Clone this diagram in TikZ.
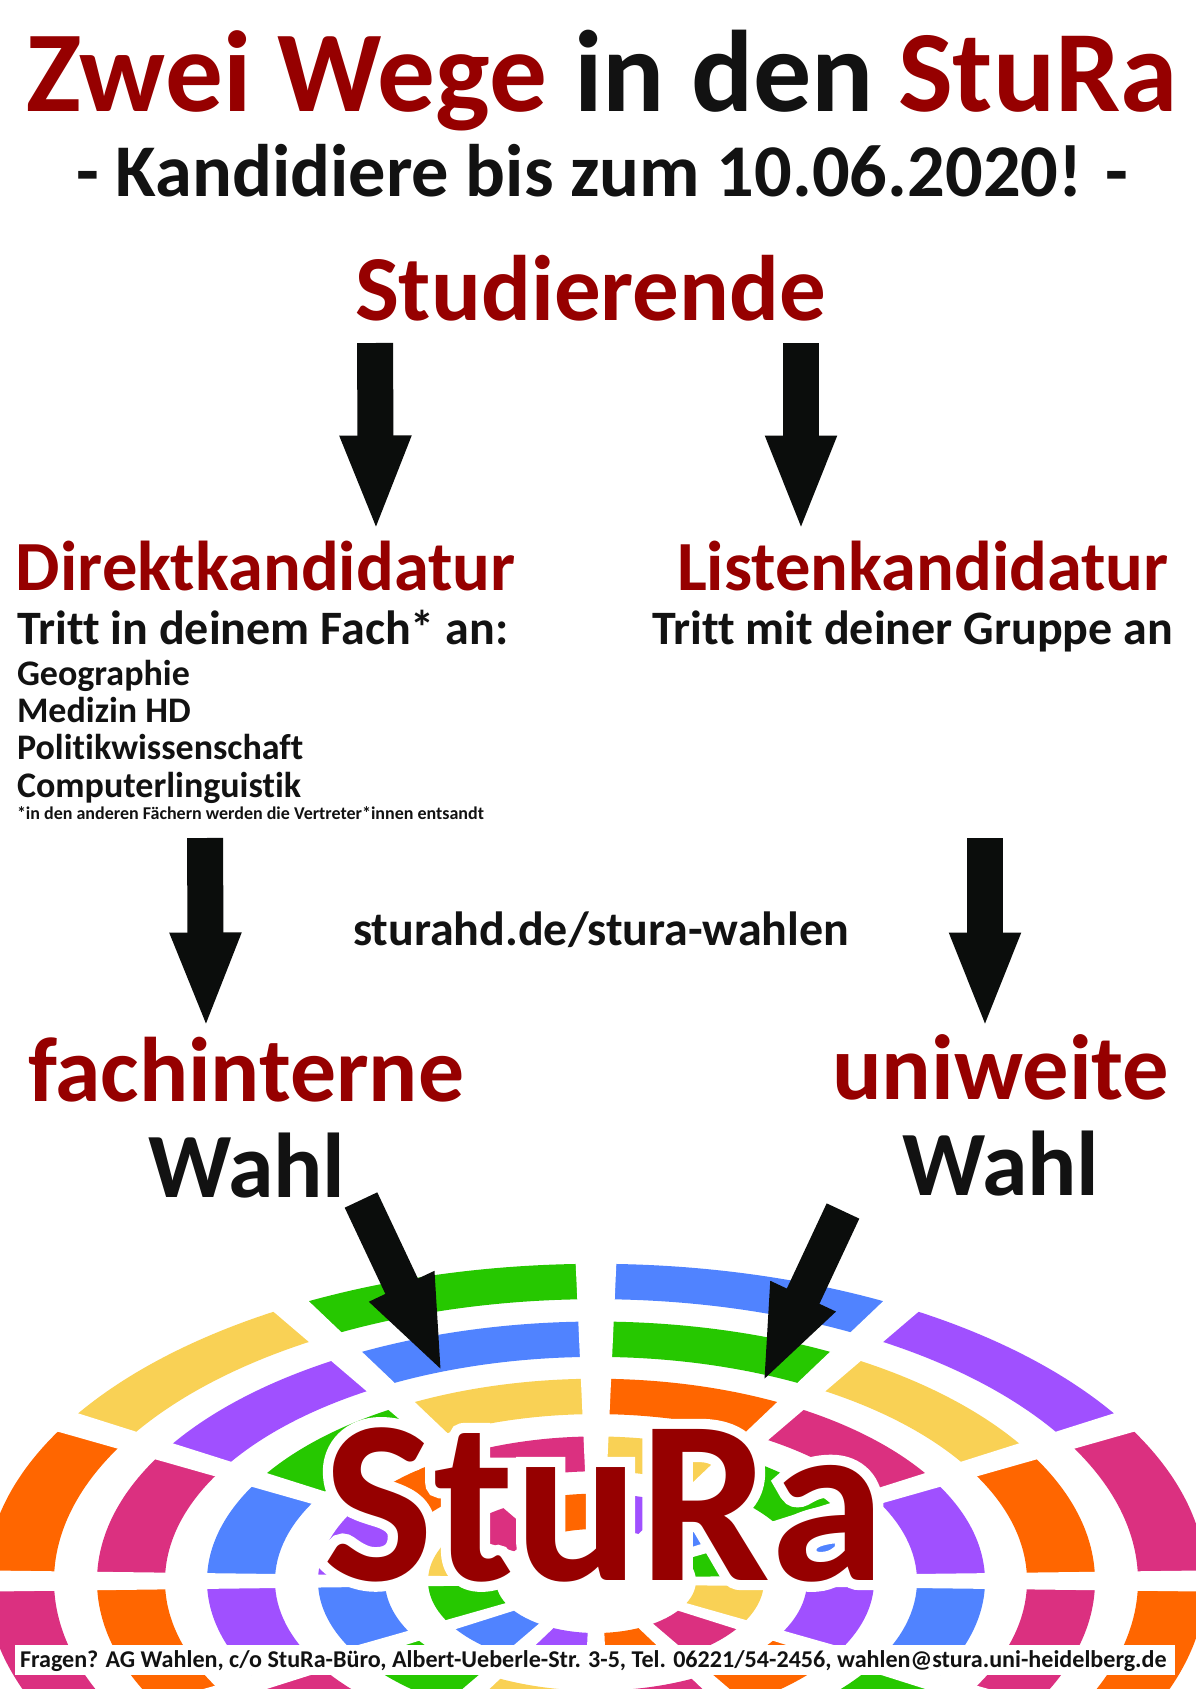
\documentclass[tikz,border=0pt]{standalone}
\usepackage{fontspec}
\usetikzlibrary{arrows.meta}
\defaultfontfeatures{Ligatures=NoCommon}
\setmainfont[BoldFont={Carlito Bold}]{Carlito}
\newfontfamily\halofont[FakeBold=8.7]{Carlito Bold}
\definecolor{dred}{RGB}{150,0,0}
\definecolor{nblack}{RGB}{18,18,18}
\definecolor{arrowblack}{RGB}{11,13,12}
\definecolor{rorange}{RGB}{255,102,0}
\definecolor{ryellow}{RGB}{249,209,85}
\definecolor{rgreen}{RGB}{38,200,0}
\definecolor{rblue}{RGB}{80,131,255}
\definecolor{rpurple}{RGB}{160,80,255}
\definecolor{rpink}{RGB}{219,48,128}
\newcommand\fsz[1]{\fontsize{#1}{#1}\selectfont\bfseries}
\newcommand\seg[4]{\fill[#4] (#3:#1) arc[start angle=#3,end angle=#3+30,radius=#1] -- ({#3+30}:#2) arc[start angle=#3+30,end angle=#3,radius=#2] -- cycle;}
\newcommand\ringset[3]{\foreach \a/\c in {#3}{\seg{#1}{#2}{\a}{\c}}}
\tikzset{
  tx/.style={anchor=base west,inner sep=0pt,outer sep=0pt,text=nblack},
  red/.style={tx,text=dred},
  dark/.style={tx,text=nblack},
  blockarrow/.style={draw=arrowblack,line width=36pt,-{Triangle[length=97pt,width=64pt,fill=arrowblack]}},
}
\begin{document}
\begin{tikzpicture}[x=1pt,y=-1pt]
\useasboundingbox (0,0) rectangle (1196,1689);
\fill[white] (0,0) rectangle (1196,1689);
\clip (0,0) rectangle (1196,1689);
% parliament rings
\begin{scope}[shift={(596,1581)},x=1pt,y=1pt,yscale=.52]
\ringset{610}{542}{0/rpink,30/rpurple,60/rblue,90/rgreen,120/ryellow,150/rorange,180/rpink,330/rorange}
\ringset{499}{431}{0/rorange,30/ryellow,60/rgreen,90/rblue,120/rpurple,150/rpink,180/rorange,330/rpink}
\ringset{389}{321}{0/rpurple,30/rpink,60/rorange,90/ryellow,120/rgreen,150/rblue,180/rpurple,210/rpink,300/rgreen,330/rblue}
\ringset{278}{211}{0/rblue,30/rgreen,60/ryellow,90/rpink,120/rorange,150/rpurple,180/rblue,210/rgreen,240/ryellow,270/rpink,300/rorange,330/rpurple}
\ringset{168}{100}{0/rgreen,30/rblue,60/rpurple,90/rorange,120/rpink,150/ryellow,180/rgreen,210/rblue,240/rpurple,270/rorange,300/rpink,330/ryellow}
\foreach \t in {0,30,...,330}{
  \fill[white,rotate=\t] (0,-6) -- (660,-21.5) -- (660,21.5) -- (0,6) -- cycle;
}
\end{scope}
% texts
\node[red] (t1) at (27,111) {\fsz{115.3}Zwei Wege};
\node[dark] (t2) at (574,111) {\fsz{116}in den};
\node[red] (t3) at (898,111) {\fsz{116}StuRa};
\node[tx] (sub) at (76,196) {\fsz{74.4}- Kandidiere bis zum 10.06.2020! -};
\node[red] (stud) at (355,320) {\fsz{93}Studierende};
\node[red] (direkt) at (16,590) {\fsz{70.5}Direktkandidatur};
\node[red] (liste) at (677,590) {\fsz{70.5}Listenkandidatur};
\node[dark] (dsub) at (17,644) {\fsz{48}Tritt in deinem Fach* an:};
\node[dark] (lsub) at (652,644) {\fsz{48}Tritt mit deiner Gruppe an};
\node[dark] (f1) at (17,685) {\fsz{36}Geographie};
\node[dark] (f2) at (17,722) {\fsz{36}Medizin HD};
\node[dark] (f3) at (17,759) {\fsz{36}Politikwissenschaft};
\node[dark] (f4) at (17,797) {\fsz{36}Computerlinguistik};
\node[dark] (note) at (17,819) {\fsz{18}*in den anderen Fächern werden die Vertreter*innen entsandt};
\node[tx] (url) at (353,945) {\fsz{48}sturahd.de/stura-wahlen};
\node[red] (fach) at (28,1101) {\fsz{91.7}fachinterne};
\node[dark] (wl) at (148,1197) {\fsz{92}Wahl};
\node[red] (uni) at (832,1099) {\fsz{92.6}uniweite};
\node[dark] (wr) at (902,1195) {\fsz{92}Wahl};
% block arrows
\coordinate (a1s) at (375,343); \coordinate (a1e) at (376,532.5);
\coordinate (a2s) at (801,343); \coordinate (a2e) at (801,532.5);
\coordinate (a3s) at (205,838); \coordinate (a3e) at (206,1029.5);
\coordinate (a4s) at (985,838); \coordinate (a4e) at (985,1029.5);
\coordinate (a5s) at (361,1200); \coordinate (a5e) at (443,1374);
\coordinate (a6s) at (843,1211); \coordinate (a6e) at (762,1384);
\foreach \s/\e in {a1s/a1e,a2s/a2e,a3s/a3e,a4s/a4e,a5s/a5e,a6s/a6e}{\draw[blockarrow] (\s) -- (\e);}
% logo word with white halo
\node[tx,text=white] (halo) at (323,1580) {\fontsize{233}{233}\halofont StuRa};
\node[red] (logo) at (323,1580) {\fsz{233}StuRa};
% footer
\node[fill=white,inner sep=0pt,minimum width=1160pt,minimum height=30pt,anchor=south west] (boxf) at (14.5,1675) {};
\node[dark] (foot) at (20,1667) {\fsz{24.1}Fragen? AG Wahlen, c/o StuRa-Büro, Albert-Ueberle-Str. 3-5, Tel. 06221/54-2456, wahlen@stura.uni-heidelberg.de};
\end{tikzpicture}
\end{document}
